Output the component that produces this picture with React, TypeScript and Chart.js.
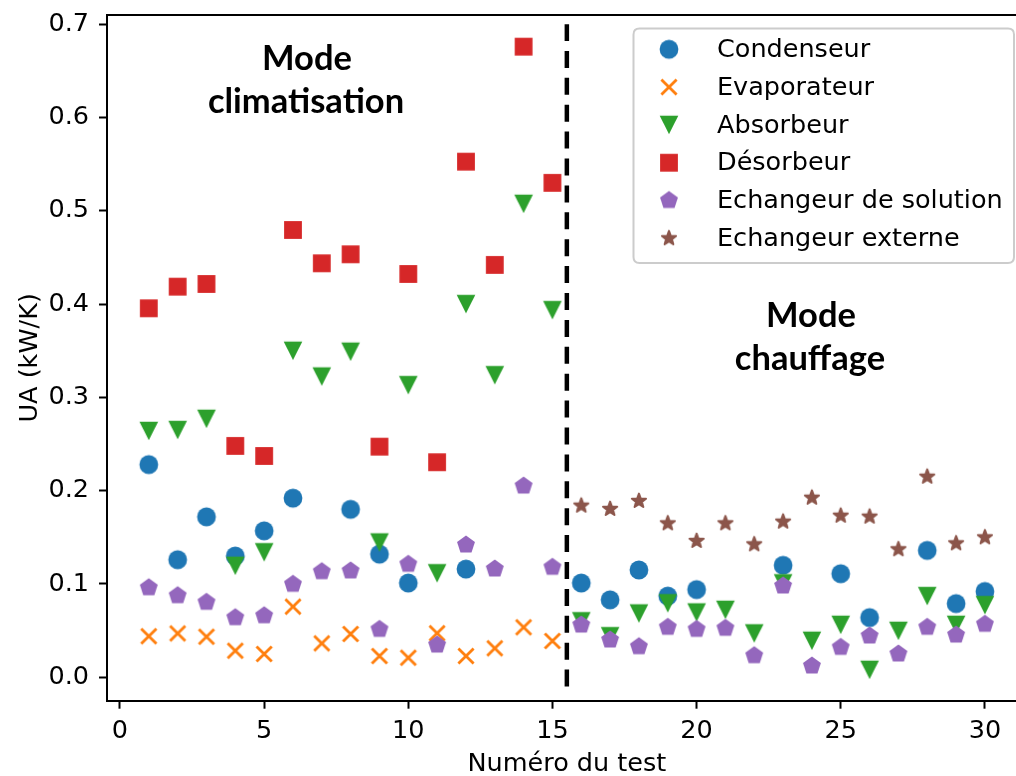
import React, { useEffect, useRef } from 'react';
import { Chart, registerables } from 'chart.js';

Chart.register(...registerables);

// ---------------- data ----------------
const tests = [1, 2, 3, 4, 5, 6, 7, 8, 9, 10, 11, 12, 13, 14, 15, 16, 17, 18, 19, 20, 21, 22, 23, 24, 25, 26, 27, 28, 29, 30];

const condenseur = [0.228, 0.126, 0.172, 0.130, 0.157, 0.192, null, 0.180, 0.132, 0.101, null, 0.116, null, null, null,
  0.101, 0.083, 0.115, 0.087, 0.094, null, null, 0.120, null, 0.111, 0.064, null, 0.136, 0.079, 0.092];
const evaporateur = [0.044, 0.047, 0.0435, 0.0285, 0.025, 0.0757, 0.0364, 0.0464, 0.0228, 0.021, 0.0472, 0.0228, 0.0311, 0.0536, 0.0389,
  null, null, null, null, null, null, null, null, null, null, null, null, null, null, null];
const absorbeur = [0.264, 0.265, 0.277, 0.1195, 0.134, 0.350, 0.3224, 0.349, 0.1445, 0.3131, 0.1115, 0.400, 0.3238, 0.5075, 0.3935,
  0.060, 0.044, 0.0684, 0.0793, 0.0695, 0.0723, 0.047, 0.1007, 0.0391, 0.0562, 0.008, 0.0498, 0.087, 0.0562, 0.0773];
const desorbeur = [0.3955, 0.4187, 0.4216, 0.248, 0.2372, 0.4795, 0.4438, 0.4534, 0.2472, 0.4323, 0.2305, 0.5527, 0.442, 0.676, 0.530,
  null, null, null, null, null, null, null, null, null, null, null, null, null, null, null];
const echangeurSolution = [0.096, 0.0875, 0.0804, 0.0639, 0.066, 0.0997, 0.1132, 0.114, 0.0514, 0.1211, 0.0346, 0.1418, 0.1161, 0.205, 0.1179,
  0.056, 0.040, 0.0328, 0.0536, 0.0514, 0.0525, 0.0232, 0.0979, 0.0121, 0.0321, 0.0443, 0.025, 0.0536, 0.0453, 0.0568];
const echangeurExterne = [null, null, null, null, null, null, null, null, null, null, null, null, null, null, null,
  0.184, 0.1804, 0.189, 0.165, 0.1461, 0.165, 0.1425, 0.1668, 0.1925, 0.1732, 0.1722, 0.1372, 0.215, 0.1436, 0.150];

const seriesNames = ['Condenseur', 'Evaporateur', 'Absorbeur', 'Désorbeur', 'Echangeur de solution', 'Echangeur externe'];
const seriesValues = [condenseur, evaporateur, absorbeur, desorbeur, echangeurSolution, echangeurExterne];
const seriesColors = ['#1f77b4', '#ff7f0e', '#2ca02c', '#d62728', '#9467bd', '#8c564b'];
const seriesMarkers = ['circle', 'x', 'triangleDown', 'square', 'pentagon', 'star'];

const xTicks = [0, 5, 10, 15, 20, 25, 30];
const yTicks = [0, 0.1, 0.2, 0.3, 0.4, 0.5, 0.6, 0.7];
const xRange = [-0.45, 31.45];
const yRange = [-0.0251, 0.7099];

const separatorX = 15.5;
const separatorY = [-0.01, 0.7];

const xTitle = 'Numéro du test';
const yTitle = 'UA (kW/K)';
const annotationLeft = ['Mode', 'climatisation'];
const annotationRight = ['Mode', 'chauffage'];

// ---------------- markers ----------------
function makeMarker(kind: string, color: string): HTMLCanvasElement {
  const S = 28;
  const c = document.createElement('canvas');
  c.width = S;
  c.height = S;
  const g = c.getContext('2d') as CanvasRenderingContext2D;
  g.translate(S / 2, S / 2);
  g.fillStyle = color;
  g.strokeStyle = color;
  g.beginPath();
  if (kind === 'circle') {
    g.arc(0, 0, 9.4, 0, Math.PI * 2);
    g.fill();
  } else if (kind === 'x') {
    const a = 7.6;
    g.lineWidth = 2.8;
    g.moveTo(-a, -a);
    g.lineTo(a, a);
    g.moveTo(-a, a);
    g.lineTo(a, -a);
    g.stroke();
  } else if (kind === 'triangleDown') {
    const h = 9.3;
    g.moveTo(-h, -h);
    g.lineTo(h, -h);
    g.lineTo(0, h);
    g.closePath();
    g.fill();
  } else if (kind === 'square') {
    const s = 8.9;
    g.rect(-s, -s, 2 * s, 2 * s);
    g.fill();
  } else if (kind === 'pentagon') {
    const R = 9.4;
    for (let k = 0; k < 5; k++) {
      const ang = -Math.PI / 2 + (k * 2 * Math.PI) / 5;
      const px = R * Math.cos(ang);
      const py = R * Math.sin(ang);
      if (k === 0) g.moveTo(px, py); else g.lineTo(px, py);
    }
    g.closePath();
    g.fill();
  } else if (kind === 'star') {
    const R = 7.4;
    const r = R * 0.42;
    for (let k = 0; k < 10; k++) {
      const ang = -Math.PI / 2 + (k * Math.PI) / 5;
      const rad = k % 2 === 0 ? R : r;
      const px = rad * Math.cos(ang);
      const py = rad * Math.sin(ang);
      if (k === 0) g.moveTo(px, py); else g.lineTo(px, py);
    }
    g.closePath();
    g.fill();
    g.lineWidth = 2;
    g.lineJoin = 'round';
    g.stroke();
  }
  return c;
}

const FONT = "'DejaVu Sans', 'Liberation Sans', sans-serif";
const FS = 25.5;

export default function App() {
  const ref = useRef<HTMLCanvasElement | null>(null);

  useEffect(() => {
    if (!ref.current) return;
    Chart.defaults.font.family = FONT;
    Chart.defaults.font.size = FS;
    Chart.defaults.color = '#000';

    const markers = seriesMarkers.map((m, i) => makeMarker(m, seriesColors[i]));

    const datasets: any[] = seriesNames.map((name, i) => ({
      label: name,
      data: tests
        .map((t, j) => ({ x: t, y: seriesValues[i][j] }))
        .filter((p) => p.y !== null && p.y !== undefined),
      pointStyle: markers[i],
      pointRadius: 10,
      pointHoverRadius: 10,
      backgroundColor: seriesColors[i],
      borderColor: seriesColors[i],
      showLine: false,
      order: seriesNames.length - i,
    }));

    datasets.push({
      label: 'separator',
      data: [
        { x: separatorX, y: separatorY[0] },
        { x: separatorX, y: separatorY[1] },
      ],
      showLine: true,
      borderColor: '#000',
      borderWidth: 4.5,
      borderDash: [17, 9.9],
      pointRadius: 0,
      pointHoverRadius: 0,
      order: 10,
    });

    const overlay = {
      id: 'overlay',
      afterDraw(chart: any) {
        const { ctx, chartArea: a } = chart;
        ctx.save();
        // top & right spines
        ctx.strokeStyle = '#000';
        ctx.lineWidth = 2;
        ctx.beginPath();
        ctx.moveTo(a.left - 1, a.top);
        ctx.lineTo(a.right, a.top);
        ctx.lineTo(a.right, a.bottom);
        ctx.stroke();

        // mode annotations
        ctx.fillStyle = '#000';
        ctx.textAlign = 'center';
        ctx.textBaseline = 'alphabetic';
        ctx.font = "bold 34.5px Lato, 'Open Sans', sans-serif";
        ctx.fillText(annotationLeft[0], 307, 70);
        ctx.fillText(annotationLeft[1], 306, 113);
        ctx.fillText(annotationRight[0], 811, 327);
        ctx.fillText(annotationRight[1], 810, 370);

        // legend
        const bx = 633.5, by = 28.5, bw = 380.5, bh = 234.5, br = 6;
        ctx.beginPath();
        ctx.moveTo(bx + br, by);
        ctx.lineTo(bx + bw - br, by);
        ctx.quadraticCurveTo(bx + bw, by, bx + bw, by + br);
        ctx.lineTo(bx + bw, by + bh - br);
        ctx.quadraticCurveTo(bx + bw, by + bh, bx + bw - br, by + bh);
        ctx.lineTo(bx + br, by + bh);
        ctx.quadraticCurveTo(bx, by + bh, bx, by + bh - br);
        ctx.lineTo(bx, by + br);
        ctx.quadraticCurveTo(bx, by, bx + br, by);
        ctx.closePath();
        ctx.fillStyle = 'rgba(255,255,255,0.8)';
        ctx.fill();
        ctx.strokeStyle = '#cccccc';
        ctx.lineWidth = 2;
        ctx.stroke();

        ctx.font = `${FS}px ${FONT}`;
        ctx.textAlign = 'left';
        ctx.textBaseline = 'middle';
        ctx.fillStyle = '#000';
        seriesNames.forEach((name, i) => {
          const ry = 49.3 + i * 37.8;
          const m = markers[i];
          ctx.drawImage(m, 669 - m.width / 2, ry - m.height / 2);
          ctx.fillText(name, 717, ry + 1);
        });
        ctx.restore();
      },
    };

    const chart = new Chart(ref.current, {
      type: 'scatter',
      data: { datasets },
      plugins: [overlay],
      options: {
        animation: false,
        responsive: false,
        devicePixelRatio: 1,
        events: [],
        layout: { padding: { left: 0, top: 15, right: 13.3, bottom: 0 }, autoPadding: false },
        plugins: { legend: { display: false }, tooltip: { enabled: false } },
        scales: {
          x: {
            type: 'linear',
            min: xRange[0],
            max: xRange[1],
            afterBuildTicks: (s: any) => {
              s.ticks = xTicks.map((v) => ({ value: v }));
            },
            afterFit: (s: any) => {
              s.height = 79.3;
              s.paddingLeft = 0;
              s.paddingRight = 0;
            },
            ticks: { color: '#000', font: { size: FS }, padding: 7.5, maxRotation: 0, callback: (v: any) => String(v) },
            grid: { drawOnChartArea: false, drawTicks: true, tickLength: 8, tickWidth: 2, tickColor: '#000' },
            border: { display: true, color: '#000', width: 2 },
            title: { display: true, text: xTitle, color: '#000', font: { size: FS }, padding: { top: 0, bottom: 0 } },
          },
          y: {
            type: 'linear',
            min: yRange[0],
            max: yRange[1],
            afterBuildTicks: (s: any) => {
              s.ticks = yTicks.map((v) => ({ value: v }));
            },
            afterFit: (s: any) => {
              s.width = 107;
              s.paddingTop = 0;
              s.paddingBottom = 0;
            },
            ticks: { color: '#000', font: { size: FS }, padding: 10, callback: (v: any) => Number(v).toFixed(1) },
            grid: { drawOnChartArea: false, drawTicks: true, tickLength: 8, tickWidth: 2, tickColor: '#000' },
            border: { display: true, color: '#000', width: 2 },
            title: { display: true, text: yTitle, color: '#000', font: { size: FS }, padding: { top: 15.2, bottom: 0 } },
          },
        },
      } as any,
    });
    return () => chart.destroy();
  }, []);

  return (
    <div style={{ position: 'fixed', left: 0, top: 0, width: 1016, height: 776, overflow: 'hidden', background: '#fff' }}>
      <canvas ref={ref} width={1040} height={780} style={{ display: 'block', width: 1040, height: 780 }} />
    </div>
  );
}
